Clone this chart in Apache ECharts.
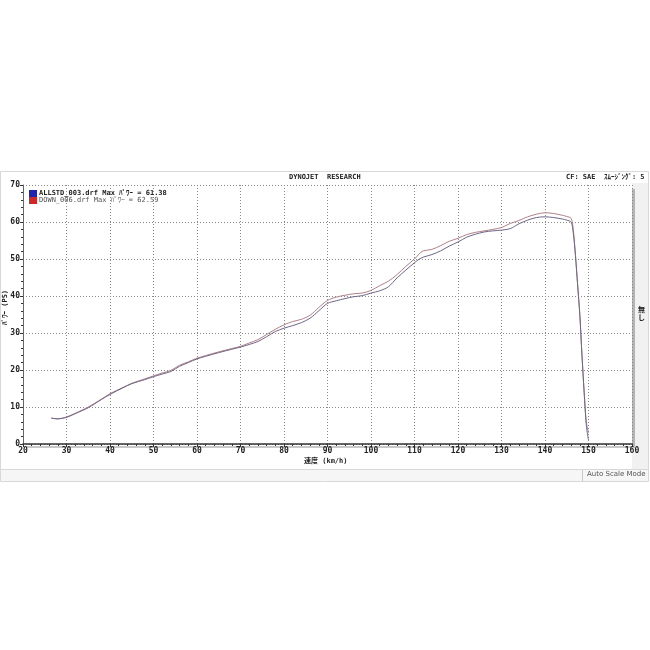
<!DOCTYPE html>
<html><head><meta charset="utf-8">
<script src="https://cdn.jsdelivr.net/npm/echarts@6/dist/echarts.min.js"></script>
<style>html,body{margin:0;padding:0;background:#fff}#c{width:650px;height:650px}</style>
</head><body><div id="c"></div>
<script>
var speeds = [26.5,28,30,32,35,38,40,43,45,48,50,52,54,56,58,60,62,65,68,70,72,74,76,78,80,82,84,86,88,90,92,94,96,98,100,102,104,106,108,110,111,112,114,116,118,120,122,124,126,128,130,132,134,136,138,140,142,144,145,146,146.5,147,147.5,148,148.5,149,149.5,150];
var powerA = [7.0,6.8,7.2,8.2,9.8,12.0,13.4,15.2,16.3,17.4,18.2,18.9,19.6,21.0,22.0,23.0,23.7,24.7,25.6,26.2,26.9,27.7,29.0,30.4,31.3,32.0,32.8,34.0,36.0,38.0,38.7,39.3,39.8,40.1,40.8,41.4,42.5,44.9,47.0,49.0,49.9,50.5,51.2,52.2,53.5,54.6,55.9,56.7,57.3,57.6,57.8,58.2,59.5,60.5,61.2,61.4,61.2,60.8,60.5,60.0,57,51,43,35,24,14,5,1];
var powerB = [7.0,6.8,7.3,8.3,10.0,12.1,13.6,15.3,16.4,17.6,18.4,19.2,19.9,21.3,22.2,23.2,23.9,24.9,25.8,26.4,27.3,28.2,29.6,31.0,32.2,33.1,33.7,34.8,36.9,38.8,39.7,40.2,40.6,40.8,41.5,42.8,44.0,45.8,48.0,50.0,51.3,52.2,52.6,53.6,54.8,55.6,56.6,57.2,57.6,58.0,58.5,59.6,60.4,61.4,62.1,62.5,62.3,61.8,61.5,61.0,58,51,43,35,24,14,6,3];
var seriesNames = ['ALLSTD_003.drf Max ﾊﾟﾜｰ = 61.38', 'DOWN_006.drf Max ﾊﾟﾜｰ = 62.59'];
var xTitle = '速度 (km/h)';
var yTitle = 'ﾊﾟﾜｰ (PS)';
var headerTitle = 'DYNOJET  RESEARCH';
var headerRight = 'CF: SAE  ｽﾑｰｼﾞﾝｸﾞ: 5';
var rightLabel = '無\nし';
var statusText = 'Auto Scale Mode';

function pairs(xs, ys){ return xs.map(function(x,i){ return [x, ys[i]]; }); }
var mono = '"DejaVu Sans Mono", "Noto Sans CJK JP", monospace';
var chart = echarts.init(document.getElementById('c'));
chart.setOption({
  animation: false,
  backgroundColor: '#fff',
  grid: {left: 23, right: 18, top: 185, bottom: 206, containLabel: false},
  graphic: [
    {type:'rect', z:-10, shape:{x:0.5,y:171.5,width:648,height:298}, style:{fill:'#fff', stroke:'#d8d8d8', lineWidth:1}},
    {type:'rect', z:-10, shape:{x:632,y:183,width:16,height:286}, style:{fill:'#f1f1f1'}},
    {type:'rect', z:-9, shape:{x:632,y:189,width:3,height:259}, style:{fill:'#b4b4b4'}},
    {type:'rect', z:-9, shape:{x:26,y:446,width:609,height:2}, style:{fill:'#c8c8c8'}},
    {type:'rect', z:-9, shape:{x:0.5,y:469.5,width:648,height:12}, style:{fill:'#f6f6f6', stroke:'#d8d8d8', lineWidth:1}},
    {type:'line', shape:{x1:582.5,y1:470,x2:582.5,y2:481}, style:{stroke:'#c8c8c8', lineWidth:1}},
    {type:'text', left:587, top:471, style:{text:statusText, font:'7px "DejaVu Sans", sans-serif', fill:'#555'}},
    {type:'text', left:289, top:174, style:{text:headerTitle, font:'bold 7px '+mono, fill:'#222'}},
    {type:'text', left:566, top:174, style:{text:headerRight, font:'bold 7px '+mono, fill:'#222'}},
    {type:'text', left:638, top:305, style:{text:rightLabel, font:'bold 7px "Noto Sans CJK JP"', fill:'#222', lineHeight:8}},
    {type:'text', left:304, top:458, style:{text:xTitle, font:'bold 7px '+mono, fill:'#222'}},
    {type:'text', x:2, y:325, rotation:Math.PI/2, style:{text:yTitle, font:'bold 7px '+mono, fill:'#222'}}
  ],
  legend: {
    orient:'vertical', left:24, top:185, itemGap:0, itemWidth:8, itemHeight:7, icon:'rect',
    textStyle:{fontFamily:mono, fontSize:7, color:'#222', padding:[0,0,0,-3]},
    data:[
      {name:seriesNames[0], itemStyle:{color:'#2222b0'}, textStyle:{fontWeight:'bold'}},
      {name:seriesNames[1], itemStyle:{color:'#d02828'}, textStyle:{fontWeight:'normal', color:'#555'}}
    ]
  },
  xAxis: {
    type:'value', min:20, max:160, interval:10,
    axisLine:{lineStyle:{color:'#333', width:1.5}},
    axisTick:{show:true, length:3, lineStyle:{color:'#333'}},
    minorTick:{show:true, splitNumber:5, length:2, lineStyle:{color:'#333'}},
    axisLabel:{fontFamily:mono, fontSize:8, fontWeight:'bold', color:'#222', margin:3},
    splitLine:{show:true, lineStyle:{color:'#888', type:[1,2], width:1}}
  },
  yAxis: {
    type:'value', min:0, max:70, interval:10,
    axisLine:{show:true, lineStyle:{color:'#666', width:1}},
    axisTick:{show:true, length:3, lineStyle:{color:'#333'}},
    minorTick:{show:true, splitNumber:5, length:2, lineStyle:{color:'#333'}},
    axisLabel:{fontFamily:mono, fontSize:8, fontWeight:'bold', color:'#222', margin:3},
    splitLine:{show:true, lineStyle:{color:'#888', type:[1,2], width:1}}
  },
  series: [
    {name:seriesNames[0], type:'line', data:pairs(speeds, powerA), showSymbol:false, smooth:0.3,
     lineStyle:{color:'#6e6688', width:1}, itemStyle:{color:'#2222b0'}, z:3},
    {name:seriesNames[1], type:'line', data:pairs(speeds, powerB), showSymbol:false, smooth:0.3,
     lineStyle:{color:'#b08088', width:1}, itemStyle:{color:'#d02828'}, z:2}
  ]
});
</script></body></html>
